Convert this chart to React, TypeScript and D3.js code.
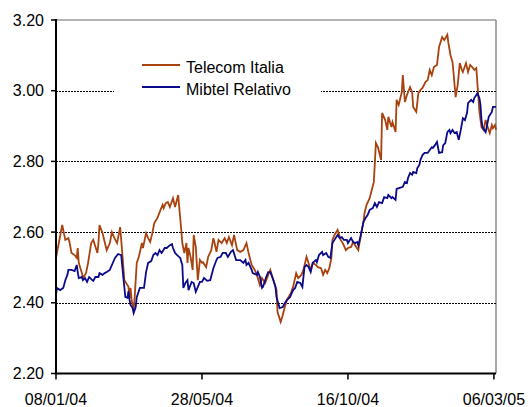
import React from "react";
import * as d3 from "d3";

const seriesNames = ["Telecom Italia", "Mibtel Relativo"];
const seriesColors = ["#A8420E", "#0A0A8A"];
const xTickLabels = ["08/01/04", "28/05/04", "16/10/04", "06/03/05"];
const xDomainLabels = ["08/01/04", "08/03/05"];
const yTicks = [2.2, 2.4, 2.6, 2.8, 3.0, 3.2];
const gridValues = [2.4, 2.6, 2.8, 3.0];

// days since 08/01/04
const telecomDays = [0, 6, 9, 12, 13, 15, 18, 20, 21, 22, 25, 26, 29, 31, 34, 36, 40, 41, 42, 45, 47, 49, 52, 54, 56, 59, 62, 64, 66, 69, 70, 71, 72, 73, 75, 76, 78, 80, 83, 84, 87, 89, 91, 93, 95, 98, 99, 101, 103, 104, 106, 108, 110, 113, 115, 118, 121, 122, 124, 126, 127, 128, 130, 132, 133, 135, 137, 139, 141, 142, 145, 147, 150, 152, 153, 155, 157, 160, 163, 165, 167, 170, 172, 175, 178, 181, 184, 186, 189, 192, 194, 197, 199, 202, 205, 207, 210, 213, 214, 217, 219, 221, 223, 227, 229, 232, 234, 237, 239, 242, 243, 246, 248, 251, 253, 256, 258, 260, 262, 264, 266, 267, 269, 272, 275, 277, 280, 282, 285, 287, 290, 292, 295, 297, 298, 300, 303, 305, 307, 309, 311, 314, 315, 318, 320, 321, 324, 325, 328, 329, 331, 334, 335, 337, 339, 342, 344, 345, 348, 350, 352, 354, 357, 359, 361, 363, 365, 368, 370, 373, 375, 378, 379, 381, 383, 384, 386, 388, 390, 392, 393, 396, 398, 400, 402, 404, 406, 407, 408, 409, 411, 413, 415, 417, 419, 421, 422, 424, 425];
const telecomValues = [2.527, 2.62, 2.578, 2.583, 2.572, 2.541, 2.535, 2.527, 2.555, 2.513, 2.484, 2.47, 2.484, 2.513, 2.569, 2.578, 2.541, 2.569, 2.62, 2.597, 2.572, 2.549, 2.569, 2.6, 2.586, 2.569, 2.614, 2.541, 2.464, 2.45, 2.445, 2.414, 2.442, 2.408, 2.38, 2.416, 2.513, 2.53, 2.569, 2.555, 2.597, 2.583, 2.572, 2.597, 2.626, 2.64, 2.648, 2.663, 2.677, 2.668, 2.682, 2.685, 2.671, 2.696, 2.671, 2.705, 2.606, 2.569, 2.541, 2.569, 2.513, 2.555, 2.53, 2.493, 2.592, 2.558, 2.464, 2.521, 2.513, 2.515, 2.501, 2.53, 2.549, 2.583, 2.572, 2.544, 2.578, 2.569, 2.583, 2.569, 2.586, 2.563, 2.592, 2.549, 2.544, 2.549, 2.569, 2.541, 2.507, 2.493, 2.479, 2.45, 2.47, 2.456, 2.479, 2.493, 2.464, 2.436, 2.374, 2.346, 2.365, 2.388, 2.408, 2.428, 2.445, 2.484, 2.47, 2.479, 2.493, 2.53, 2.521, 2.493, 2.513, 2.507, 2.501, 2.498, 2.479, 2.493, 2.484, 2.498, 2.527, 2.578, 2.592, 2.606, 2.578, 2.569, 2.549, 2.555, 2.558, 2.572, 2.558, 2.549, 2.6, 2.629, 2.654, 2.677, 2.696, 2.719, 2.742, 2.852, 2.84, 2.804, 2.937, 2.917, 2.889, 2.926, 2.897, 2.911, 2.883, 2.974, 2.96, 2.996, 3.044, 2.968, 2.988, 3.01, 2.996, 2.954, 2.94, 2.993, 3.002, 3.008, 3.025, 3.03, 3.059, 3.044, 3.067, 3.073, 3.124, 3.152, 3.143, 3.158, 3.135, 3.101, 3.081, 3.05, 2.982, 3.016, 3.078, 3.059, 3.053, 3.078, 3.053, 3.073, 3.067, 3.059, 3.064, 3.022, 2.982, 2.94, 2.897, 2.889, 2.917, 2.897, 2.88, 2.903, 2.894, 2.903, 2.889];

const mibtelDays = [0, 1, 4, 7, 9, 11, 12, 15, 18, 20, 21, 22, 25, 26, 28, 30, 32, 35, 36, 38, 41, 42, 45, 47, 49, 52, 54, 57, 60, 63, 65, 67, 69, 70, 71, 72, 74, 75, 77, 78, 81, 85, 87, 89, 92, 94, 96, 98, 100, 102, 105, 107, 110, 112, 113, 115, 117, 120, 122, 123, 125, 127, 128, 131, 133, 135, 137, 139, 141, 143, 146, 149, 152, 155, 156, 159, 161, 164, 166, 169, 171, 174, 178, 181, 183, 184, 186, 189, 190, 194, 195, 197, 199, 200, 203, 205, 207, 210, 212, 213, 216, 219, 221, 223, 226, 229, 231, 233, 236, 238, 240, 242, 244, 246, 248, 251, 252, 254, 257, 258, 261, 263, 265, 267, 269, 272, 274, 276, 278, 281, 282, 285, 287, 289, 291, 292, 294, 296, 297, 299, 301, 303, 306, 308, 310, 312, 315, 317, 320, 321, 324, 325, 328, 329, 332, 335, 337, 339, 340, 342, 344, 345, 348, 349, 351, 352, 354, 356, 359, 361, 363, 364, 366, 368, 370, 373, 374, 376, 378, 380, 381, 383, 385, 387, 389, 391, 393, 395, 397, 398, 401, 403, 404, 406, 407, 409, 410, 411, 412, 415, 416, 418, 421, 422, 425];
const mibtelValues = [2.422, 2.442, 2.436, 2.442, 2.464, 2.479, 2.493, 2.493, 2.49, 2.507, 2.487, 2.47, 2.473, 2.464, 2.47, 2.459, 2.473, 2.464, 2.462, 2.473, 2.473, 2.484, 2.479, 2.484, 2.487, 2.493, 2.507, 2.527, 2.538, 2.535, 2.473, 2.416, 2.414, 2.433, 2.408, 2.394, 2.385, 2.371, 2.388, 2.416, 2.442, 2.442, 2.487, 2.513, 2.518, 2.535, 2.541, 2.535, 2.549, 2.541, 2.555, 2.555, 2.563, 2.566, 2.555, 2.541, 2.535, 2.527, 2.507, 2.442, 2.456, 2.464, 2.436, 2.459, 2.456, 2.431, 2.445, 2.459, 2.459, 2.47, 2.462, 2.464, 2.498, 2.521, 2.527, 2.53, 2.541, 2.541, 2.53, 2.544, 2.549, 2.521, 2.521, 2.513, 2.521, 2.507, 2.513, 2.493, 2.484, 2.479, 2.487, 2.473, 2.442, 2.445, 2.473, 2.487, 2.487, 2.464, 2.445, 2.416, 2.385, 2.388, 2.399, 2.408, 2.416, 2.436, 2.442, 2.459, 2.456, 2.445, 2.501, 2.507, 2.501, 2.487, 2.513, 2.521, 2.515, 2.535, 2.544, 2.535, 2.541, 2.53, 2.527, 2.569, 2.578, 2.592, 2.583, 2.586, 2.578, 2.578, 2.569, 2.583, 2.572, 2.569, 2.572, 2.563, 2.586, 2.614, 2.629, 2.64, 2.648, 2.663, 2.668, 2.682, 2.671, 2.685, 2.682, 2.699, 2.696, 2.705, 2.696, 2.699, 2.691, 2.722, 2.725, 2.728, 2.742, 2.739, 2.753, 2.767, 2.762, 2.77, 2.767, 2.781, 2.79, 2.804, 2.818, 2.824, 2.824, 2.832, 2.84, 2.838, 2.846, 2.855, 2.824, 2.826, 2.846, 2.852, 2.883, 2.889, 2.88, 2.889, 2.88, 2.883, 2.861, 2.889, 2.922, 2.917, 2.937, 2.965, 2.974, 2.968, 2.979, 2.988, 2.993, 2.979, 2.96, 2.917, 2.897, 2.883, 2.897, 2.926, 2.94, 2.954, 2.954];

const FONT = "'Liberation Sans', Arial, sans-serif";

export default function App() {
  const parse = d3.timeParse("%d/%m/%y");
  const start = parse(xDomainLabels[0]) as Date;
  const end = parse(xDomainLabels[1]) as Date;
  const x = d3.scaleTime().domain([start, end]).range([56, 496]);
  const y = d3.scaleLinear().domain([2.2, 3.2]).range([373.5, 20]);
  const fmt = d3.format(".2f");

  const toPts = (days: number[], vals: number[]) =>
    days.map((d, i) => ({ date: start.getTime() + d * 86400000, v: vals[i] }));
  const line = d3
    .line<{ date: number; v: number }>()
    .x((d) => x(new Date(d.date)))
    .y((d) => y(d.v));

  const series = [toPts(telecomDays, telecomValues), toPts(mibtelDays, mibtelValues)];

  const [x0, x1] = x.range();
  const legendX0 = 114;
  const legendX1 = 321;
  const crisp = (v: number) => Math.round(v) + 0.5;

  return (
    <svg
      width={530}
      height={407}
      style={{ position: "absolute", left: 0, top: 0, background: "#fff" }}
      fontFamily={FONT}
    >
      <rect x={0} y={0} width={530} height={407} fill="#fff" />
      {/* top and right border */}
      <line x1={x0} x2={x1} y1={y(3.2)} y2={y(3.2)} stroke="#9a9a9a" strokeWidth={1.5} />
      <line x1={x1} x2={x1} y1={y(3.2)} y2={y(2.2)} stroke="#8a8a8a" strokeWidth={1.5} />
      {/* gridlines */}
      {gridValues.map((g) => (
        <line
          key={g}
          x1={x0}
          x2={x1}
          y1={crisp(y(g))}
          y2={crisp(y(g))}
          stroke="#000"
          strokeWidth={1.2}
          strokeDasharray="2 1"
        />
      ))}
      {/* series */}
      {series.map((s, i) => (
        <path
          key={i}
          d={line(s) as string}
          fill="none"
          stroke={seriesColors[i]}
          strokeWidth={1.8}
          strokeLinejoin="miter"
        />
      ))}
      {/* legend */}
      <rect x={legendX0} y={52} width={legendX1 - legendX0} height={46} fill="#fff" />
      {seriesNames.map((n, i) => (
        <g key={n} transform={`translate(0,${65 + i * 22})`}>
          <line x1={142} x2={180} y1={0} y2={0} stroke={seriesColors[i]} strokeWidth={1.8} />
          <text x={186} y={2} dy="0.35em" fontSize={16} fill="#000">
            {n}
          </text>
        </g>
      ))}
      {/* y axis */}
      <line x1={x0} x2={x0} y1={y(3.2) - 1} y2={y(2.2) + 1} stroke="#000" strokeWidth={2} />
      {yTicks.map((t) => (
        <g key={t} transform={`translate(0,${y(t)})`}>
          <line x1={x0 - 5} x2={x0} y1={0} y2={0} stroke="#000" strokeWidth={1.5} />
          <text x={44} y={0} dy="0.35em" textAnchor="end" fontSize={16} fill="#000">
            {fmt(t)}
          </text>
        </g>
      ))}
      {/* x axis */}
      <line x1={x0} x2={x1} y1={y(2.2)} y2={y(2.2)} stroke="#000" strokeWidth={2} />
      {xTickLabels.map((l) => {
        const px = x(parse(l) as Date);
        return (
          <g key={l} transform={`translate(${px},0)`}>
            <line x1={0} x2={0} y1={y(2.2)} y2={y(2.2) + 6} stroke="#000" strokeWidth={1.5} />
            <text x={0} y={405} textAnchor="middle" fontSize={16} fill="#000">
              {l}
            </text>
          </g>
        );
      })}
    </svg>
  );
}
